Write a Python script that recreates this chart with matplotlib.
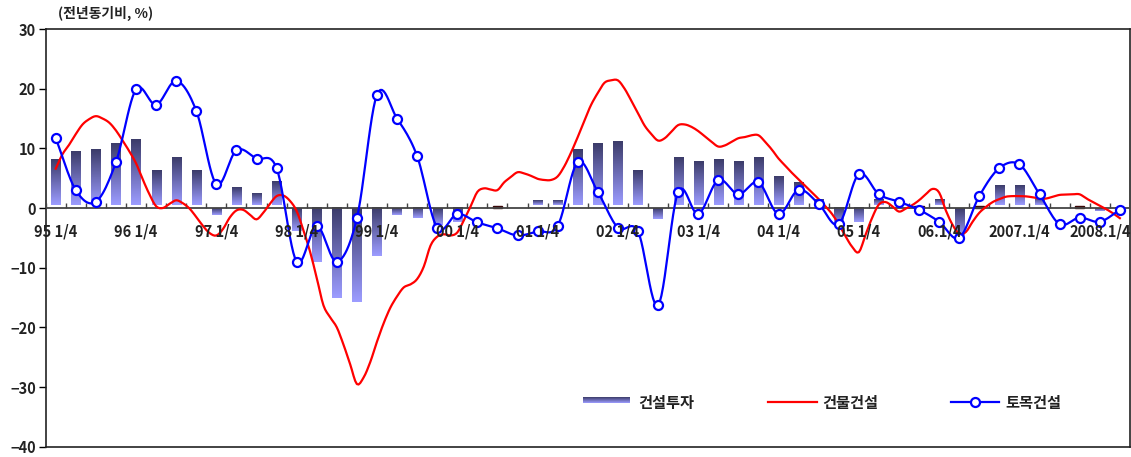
import numpy as np
import matplotlib
matplotlib.use('Agg')
import matplotlib.pyplot as plt
from matplotlib.colors import LinearSegmentedColormap

plt.rcParams['font.family'] = ['Noto Sans CJK KR', 'DejaVu Sans']
plt.rcParams['font.weight'] = 'bold'

# quarterly categories 1995Q1 .. 2008Q2
quarters = ['%d Q%d' % (y, q) for y in range(1995, 2009) for q in range(1, 5)][:54]
tick_labels = ['95 1/4', '96 1/4', '97 1/4', '98 1/4', '99 1/4', '00 1/4', '01 1/4',
               '02 1/4', '03 1/4', '04 1/4', '05 1/4', '06.1/4', '2007.1/4', '2008.1/4']
tick_quarters = ['%d Q1' % y for y in range(1995, 2009)]

# 건설투자 (bars, quarterly)
investment = [8.2, 9.5, 9.8, 10.8, 11.5, 6.2, 8.5, 6.2, -1.1, 3.5, 2.5, 4.5,
              -3.8, -9.1, -15.1, -15.7, -8.1, -1.1, -1.7, -2.8, -2.4, 0.0, 0.3, 0.0,
              1.3, 1.3, 9.8, 10.8, 11.2, 6.2, -1.8, 8.5, 7.8, 8.2, 7.8, 8.5,
              5.2, 4.2, 1.5, -2.7, -2.4, 1.5, 0.0, 0.3, 1.5, -4.8, 0.3, 3.8,
              3.8, 1.8, 0.0, 0.3, -0.5, -0.4]

# 토목건설 (blue, quarterly)
civil = [11.7, 3.0, 1.05, 7.7, 19.9, 17.3, 21.3, 16.3, 4.0, 9.7, 8.3, 6.7,
         -9.0, -3.0, -9.0, -1.7, 19.0, 15.0, 8.7, -3.3, -1.0, -2.4, -3.4, -4.6,
         -3.9, -3.0, 7.7, 2.7, -3.3, -3.9, -16.3, 2.7, -1.0, 4.7, 2.3, 4.3,
         -1.0, 3.05, 0.7, -2.7, 5.7, 2.3, 1.05, -0.3, -2.3, -5.0, 2.0, 6.7,
         7.3, 2.3, -2.7, -1.6, -2.3, -0.3]

# 건물건설 (red, monthly from 1995.2 to 2008.5)
building = [6.6, 9.0, 10.6, 12.4, 14.0, 14.9, 15.4, 15.0, 14.3, 13.0, 11.3, 9.5,
            7.5, 4.8, 2.3, 0.3, 0.0, 0.7, 1.3, 0.8, -0.1, -1.5, -3.0, -4.2,
            -4.6, -3.5, -1.6, -0.4, -0.3, -1.1, -1.9, -0.8, 0.7, 2.0, 2.1, 1.2,
            -0.5, -3.7, -7.3, -11.7, -16.3, -18.3, -20.0, -22.9, -26.2, -29.5, -28.4, -25.8,
            -22.4, -19.3, -16.7, -14.8, -13.3, -12.8, -11.9, -9.8, -6.3, -4.8, -4.4, -4.6,
            -4.1, -2.0, 0.3, 2.7, 3.3, 3.1, 3.0, 4.3, 5.2, 6.0, 5.8, 5.4,
            4.9, 4.7, 4.7, 5.3, 7.0, 9.3, 11.9, 14.7, 17.3, 19.3, 21.0, 21.4,
            21.4, 20.0, 18.0, 15.9, 13.8, 12.4, 11.3, 11.7, 12.8, 13.9, 14.0, 13.6,
            12.9, 12.0, 11.1, 10.3, 10.5, 11.1, 11.7, 11.9, 12.2, 12.2, 11.1, 9.8,
            8.3, 7.1, 5.9, 4.8, 3.7, 2.6, 1.5, 0.3, -1.0, -2.7, -4.7, -6.5,
            -7.4, -4.5, -1.6, 0.6, 1.0, 0.3, -0.6, -0.1, 0.5, 1.3, 2.3, 3.2,
            2.6, -0.4, -2.8, -4.3, -4.0, -2.3, -0.8, 0.2, 1.0, 1.5, 1.9, 2.0,
            2.0, 1.95, 1.8, 1.6, 1.6, 1.9, 2.2, 2.25, 2.3, 2.3, 1.6, 1.0,
            0.4, -0.2, -0.9, -1.7]


def smooth(x, y, n=12):
    # catmull-rom curve through the points (like a smoothed line)
    x = np.asarray(x, float)
    y = np.asarray(y, float)
    out = []
    for a in (x, y):
        p = np.concatenate([[2 * a[0] - a[1]], a, [2 * a[-1] - a[-2]]])
        p0, p1, p2, p3 = p[:-3, None], p[1:-2, None], p[2:-1, None], p[3:, None]
        t = np.linspace(0, 1, n, endpoint=False)[None, :]
        c = 0.5 * (2 * p1 + (p2 - p0) * t + (2 * p0 - 5 * p1 + 4 * p2 - p3) * t ** 2
                   + (3 * p1 - p0 - 3 * p2 + p3) * t ** 3)
        out.append(np.append(c.ravel(), a[-1]))
    return out


fig = plt.figure(figsize=(11.31, 4.57), dpi=100)
ax = fig.add_axes([0.0404, 0.0225, 0.9586, 0.914])

xq = np.arange(len(quarters))
xm = np.arange(len(building)) / 3.0

# bars with vertical gradient (dark top, light bottom)
cmap = LinearSegmentedColormap.from_list('bar', ['#9c9cff', '#3c3c6a'])
grad = np.linspace(0, 1, 64).reshape(-1, 1)
inv = np.array(investment)
bottoms = np.where(inv > 0, 0.5, 0.0)
heights = np.where(inv > 0, inv - 0.5, inv)
bars = ax.bar(xq, heights, width=0.46, bottom=bottoms, color='none', edgecolor='none')
for b, v in zip(bars, inv):
    if v == 0:
        continue
    x0, y0 = b.get_xy()
    w, h = b.get_width(), b.get_height()
    y1, y2 = sorted([y0, y0 + h])
    if abs(v) < 0.4:
        ax.add_patch(plt.Rectangle((x0, 0), w, v, color='#3a0a0a', zorder=2))
        continue
    ax.imshow(grad, extent=[x0, x0 + w, y1, y2], origin='lower', cmap=cmap,
              aspect='auto', zorder=2, interpolation='bilinear')

# zero line with quarter ticks
ax.axhline(0, color='#444444', lw=1.3, zorder=3)
ax.vlines(np.arange(-0.5, len(quarters)), 0, 0.8, color='#444444', lw=1.0, zorder=3)

sx, sy = smooth(xm, building, 4)
ax.plot(sx, sy, color='#ff0000', lw=1.6, zorder=4)

cx, cy = smooth(xq, civil, 12)
ax.plot(cx, cy, color='#0000ff', lw=1.6, zorder=5)
ax.plot(xq, civil, 'o', ms=6.5, mfc='white', mec='#0000ff', mew=1.6, zorder=6)

# quarter labels under the zero line
for lab, q in zip(tick_labels, tick_quarters):
    ax.text(quarters.index(q), -3.85, lab, ha='center', va='center',
            fontsize=10.5, color='#222222', zorder=7)

ax.set_xlim(-0.5, len(quarters) - 0.5)
ax.set_ylim(-40, 30)
ax.set_xticks([])
ax.set_yticks(range(-40, 31, 10))
ax.tick_params(axis='y', direction='out', length=5, width=1.0, pad=2,
               labelsize=10.5, labelcolor='#222222')
for s in ax.spines.values():
    s.set_color('#222222')
    s.set_linewidth(1.2)

# legend drawn in the plot area
ax.imshow(grad, extent=[26.25, 28.55, -32.6, -31.6], origin='lower', cmap=cmap,
          aspect='auto', zorder=2)
ax.text(29.0, -32.6, '건설투자', va='center', ha='left', fontsize=11, color='#222222')
ax.plot([35.5, 37.9], [-32.5, -32.5], color='#ff0000', lw=1.6)
ax.text(38.2, -32.6, '건물건설', va='center', ha='left', fontsize=11, color='#222222')
ax.plot([44.6, 47.0], [-32.5, -32.5], color='#0000ff', lw=1.6)
ax.plot([45.8], [-32.5], 'o', ms=6.5, mfc='white', mec='#0000ff', mew=1.6)
ax.text(47.3, -32.6, '토목건설', va='center', ha='left', fontsize=11, color='#222222')
ax.set_xlim(-0.5, len(quarters) - 0.5)
ax.set_ylim(-40, 30)

fig.text(58 / 1131, 1 - 13 / 457, '(전년동기비, %)', ha='left', va='center',
         fontsize=10, color='#222222')

fig.savefig('out.png', dpi=100)
